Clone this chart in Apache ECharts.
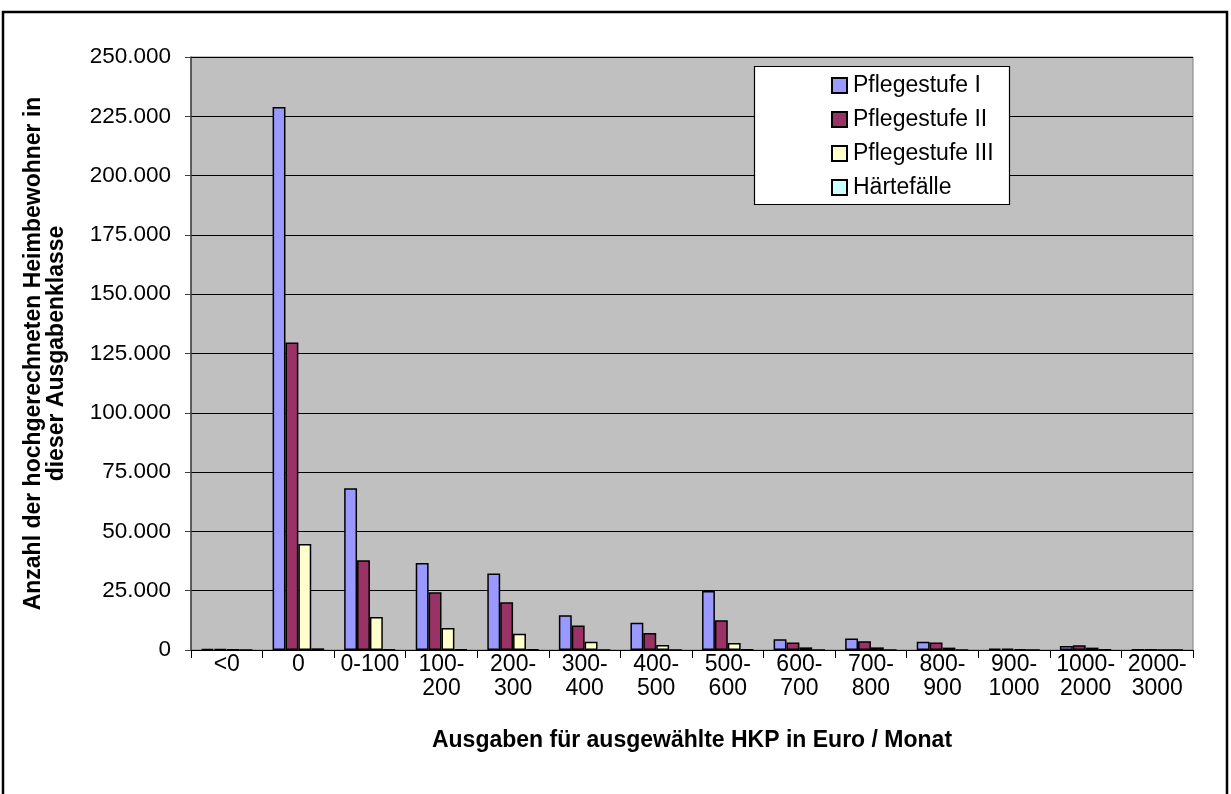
<!DOCTYPE html>
<html>
<head>
<meta charset="utf-8">
<script src="https://cdn.jsdelivr.net/npm/echarts@6/dist/echarts.min.js"></script>
<style>
  html, body { margin: 0; padding: 0; background: #ffffff; }
  #chart { width: 1231px; height: 794px; }
</style>
</head>
<body>
<div id="chart"></div>
<script>
// Ausgabenklassen (Euro / Monat)
const categories = ['<0', '0', '0-100', '100-\n200', '200-\n300', '300-\n400', '400-\n500',
  '500-\n600', '600-\n700', '700-\n800', '800-\n900', '900-\n1000', '1000-\n2000', '2000-\n3000'];

// Hochgerechnete Heimbewohner je Pflegestufe
const stufe1 = [500, 228900, 68200, 36700, 32300, 14600, 11500, 24900, 4500, 4800, 3500, 600, 1700, 200];
const stufe2 = [400, 129600, 37800, 24300, 20100, 10300, 7200, 12500, 3200, 3700, 3200, 600, 2000, 200];
const stufe3 = [200, 44700, 13900, 9300, 6900, 3500, 2100, 3000, 1100, 1100, 1000, 300, 1000, 100];
const haertefaelle = [50, 700, 300, 200, 150, 100, 100, 150, 100, 50, 50, 30, 150, 20];

const yTicks = { min: 0, max: 250000, interval: 25000 };

function fmt(v) {
  return String(v).replace(/\B(?=(\d{3})+(?!\d))/g, '.');
}

const font = 'Liberation Sans, Arial, sans-serif';

function bar(name, data, color) {
  return {
    name: name,
    type: 'bar',
    data: data,
    barGap: '0%',
    barCategoryGap: '28%',
    itemStyle: { color: color, borderColor: '#000000', borderWidth: 1.5 },
    emphasis: { disabled: true }
  };
}

const chart = echarts.init(document.getElementById('chart'), null, { renderer: 'canvas' });
chart.setOption({
  animation: false,
  backgroundColor: '#ffffff',
  textStyle: { fontFamily: font, color: '#000000' },
  graphic: [
    {
      type: 'rect', z: 0,
      shape: { x: 3, y: 12, width: 1224, height: 800 },
      style: { fill: 'none', stroke: '#000000', lineWidth: 2.5 }
    },
    {
      type: 'rect', z: 3,
      shape: { x: 754.5, y: 66.5, width: 255, height: 138 },
      style: { fill: '#ffffff', stroke: '#000000', lineWidth: 1.2 }
    }
  ],
  grid: {
    left: 191, right: 38, top: 57, bottom: 144,
    show: true, backgroundColor: '#C0C0C0', borderColor: '#808080', borderWidth: 1
  },
  legend: {
    orient: 'vertical',
    left: 826, top: 69,
    z: 4,
    itemWidth: 15, itemHeight: 15, itemGap: 11,
    icon: 'rect',
    textStyle: { fontFamily: font, fontSize: 23, color: '#000000', padding: [0, 0, 0, 1] },
    data: ['Pflegestufe I', 'Pflegestufe II', 'Pflegestufe III', 'Härtefälle']
  },
  xAxis: {
    type: 'category',
    data: categories,
    name: 'Ausgaben für ausgewählte HKP in Euro / Monat',
    nameLocation: 'middle',
    nameGap: 79,
    nameTextStyle: { fontFamily: font, fontSize: 23, fontWeight: 'bold', color: '#000000' },
    axisLine: { lineStyle: { color: '#000000', width: 1 } },
    axisTick: { show: true, alignWithLabel: false, length: 8, lineStyle: { color: '#000000' } },
    axisLabel: { fontFamily: font, fontSize: 23, color: '#000000', lineHeight: 24, margin: 3, interval: 0 }
  },
  yAxis: {
    type: 'value',
    min: yTicks.min, max: yTicks.max, interval: yTicks.interval,
    name: 'Anzahl der hochgerechneten Heimbewohner in\ndieser Ausgabenklasse',
    nameLocation: 'middle',
    nameGap: 123,
    nameRotate: 90,
    nameTextStyle: { fontFamily: font, fontSize: 23, fontWeight: 'bold', color: '#000000', lineHeight: 23 },
    axisLine: { show: true, lineStyle: { color: '#404040', width: 1.5 } },
    axisTick: { show: true, length: 6, lineStyle: { color: '#404040' } },
    axisLabel: { fontFamily: font, fontSize: 22.5, color: '#000000', margin: 20, formatter: fmt },
    splitLine: { show: true, lineStyle: { color: '#000000', width: 1 } }
  },
  series: [
    bar('Pflegestufe I', stufe1, '#9999FF'),
    bar('Pflegestufe II', stufe2, '#993366'),
    bar('Pflegestufe III', stufe3, '#FFFFCC'),
    bar('Härtefälle', haertefaelle, '#CCFFFF')
  ]
});
</script>
</body>
</html>
